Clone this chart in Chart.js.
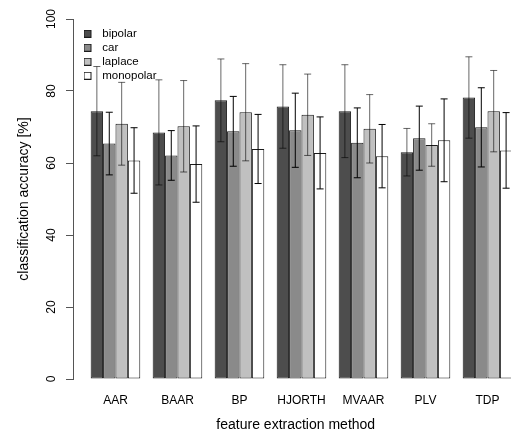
<!DOCTYPE html>
<html>
<head>
<meta charset="utf-8">
<script src="https://cdn.jsdelivr.net/npm/chart.js@4/dist/chart.umd.min.js"></script>
<style>
  html, body { margin: 0; padding: 0; background: #fff; overflow: hidden; width: 511px; height: 437px; }
  canvas { display: block; }
</style>
</head>
<body>
<canvas id="c" width="530" height="437" style="width:530px;height:437px"></canvas>
<script>
const categories = ['AAR', 'BAAR', 'BP', 'HJORTH', 'MVAAR', 'PLV', 'TDP'];
const seriesNames = ['bipolar', 'car', 'laplace', 'monopolar'];
const bipolar      = [74.4, 68.5, 77.4, 75.7, 74.4, 63.0, 78.2];
const bipolarErr   = [12.4, 14.6, 11.5, 11.6, 12.9, 6.6, 11.3];
const car          = [65.4, 62.1, 68.8, 69.1, 65.6, 66.9, 69.9];
const carErr       = [8.7, 6.9, 9.7, 10.3, 9.7, 8.9, 11.0];
const laplace      = [70.9, 70.2, 74.1, 73.4, 69.5, 65.0, 74.4];
const laplaceErr   = [11.5, 12.7, 13.5, 11.3, 9.5, 5.9, 11.3];
const monopolar    = [60.7, 59.7, 63.9, 62.8, 61.9, 66.3, 63.5];
const monopolarErr = [9.1, 10.6, 9.6, 10.0, 8.8, 11.5, 10.5];
const yTicks = [0, 20, 40, 60, 80, 100];

const fills = ['#4d4d4d', '#8a8a8a', '#c0c0c0', '#ffffff'];
const errColors = ['rgba(0,0,0,0.6)', '#000000', 'rgba(0,0,0,0.6)', '#000000'];
const values = [bipolar, car, laplace, monopolar];
const errors = [bipolarErr, carErr, laplaceErr, monopolarErr];

Chart.defaults.font.family = '"Liberation Sans", Arial, Helvetica, sans-serif';
Chart.defaults.color = '#000';

// legend swatch images: 8px box on the left of a 13px-wide transparent strip
const swatches = fills.map(f => {
  const c = document.createElement('canvas');
  c.width = 13; c.height = 8;
  const g = c.getContext('2d');
  g.fillStyle = f;
  g.fillRect(0, 0, 8, 8);
  g.strokeStyle = '#1a1a1a';
  g.lineWidth = 1;
  g.strokeRect(0.5, 0.5, 7, 7);
  return c;
});

const datasets = seriesNames.map((name, s) => ({
  label: name,
  data: values[s].map((v, i) => ({ x: i, y: v })),
  errors: errors[s],
  errColor: errColors[s],
  backgroundColor: fills[s],
  borderColor: '#1a1a1a',
  borderWidth: 1,
  borderSkipped: false,
  categoryPercentage: 0.8,
  barPercentage: 1.0
}));

const errorBars = {
  id: 'errorBars',
  afterDatasetsDraw(chart) {
    const ctx = chart.ctx;
    const ys = chart.scales.y;
    chart.data.datasets.forEach((ds, di) => {
      const meta = chart.getDatasetMeta(di);
      meta.data.forEach((bar, i) => {
        const v = ds.data[i].y, e = ds.errors[i];
        const yTop = ys.getPixelForValue(v + e);
        const yBot = ys.getPixelForValue(v - e);
        const x = bar.x;
        const cap = 3.5;
        ctx.save();
        ctx.strokeStyle = ds.errColor;
        ctx.lineWidth = 1;
        ctx.beginPath();
        ctx.moveTo(x, yTop); ctx.lineTo(x, yBot);
        ctx.moveTo(x - cap, yTop); ctx.lineTo(x + cap, yTop);
        ctx.moveTo(x - cap, yBot); ctx.lineTo(x + cap, yBot);
        ctx.stroke();
        ctx.restore();
      });
    });
  }
};

const legendShift = {
  id: 'legendShift',
  afterLayout(chart) {
    if (chart.legend) {
      chart.legend.left += 8;
      chart.legend.right += 8;
      chart.legend.top += 25.5;
      chart.legend.bottom += 25.5;
    }
  }
};

new Chart(document.getElementById('c'), {
  type: 'bar',
  data: { datasets },
  plugins: [errorBars, legendShift],
  options: {
    responsive: false,
    animation: false,
    devicePixelRatio: 1,
    layout: { padding: { top: 19, right: 11.5, bottom: 0, left: 0 } },
    plugins: {
      legend: {
        position: 'chartArea',
        align: 'start',
        labels: {
          usePointStyle: true,
          pointStyleWidth: 13,
          boxWidth: 8,
          boxHeight: 8,
          padding: 2.5,
          color: '#000',
          font: { size: 11.5 },
          generateLabels(chart) {
            const items = Chart.defaults.plugins.legend.labels.generateLabels(chart);
            return items.map((it, i) => Object.assign(it, { pointStyle: swatches[i] }));
          }
        }
      },
      tooltip: { enabled: false }
    },
    scales: {
      x: {
        type: 'linear',
        offset: false,
        min: -0.685,
        max: 6.5,
        grid: { display: false, drawTicks: false, offset: false },
        border: { display: false },
        ticks: {
          stepSize: 1,
          autoSkip: false,
          includeBounds: false,
          maxRotation: 0,
          padding: 14,
          font: { size: 12 },
          color: '#000',
          callback: (v) => (Number.isInteger(v) && categories[v] !== undefined) ? categories[v] : ''
        },
        title: {
          display: true,
          text: 'feature extraction method',
          font: { size: 14 },
          color: '#000',
          padding: { top: 0, bottom: 3 }
        },
        afterFit(scale) { scale.height = 58; }
      },
      y: {
        min: 0,
        max: 100,
        grid: { drawOnChartArea: false, drawTicks: true, tickLength: 7, color: '#555' },
        border: { display: true, color: '#555', width: 1 },
        afterBuildTicks(scale) { scale.ticks = yTicks.map(v => ({ value: v })); },
        ticks: {
          minRotation: 90,
          maxRotation: 90,
          crossAlign: 'center',
          padding: 4,
          font: { size: 12 },
          color: '#000'
        },
        title: {
          display: true,
          text: 'classification accuracy [%]',
          font: { size: 14 },
          color: '#000',
          padding: { top: 15.5, bottom: 0 }
        },
        afterFit(scale) { scale.width = 73; }
      }
    }
  }
});
</script>
</body>
</html>
